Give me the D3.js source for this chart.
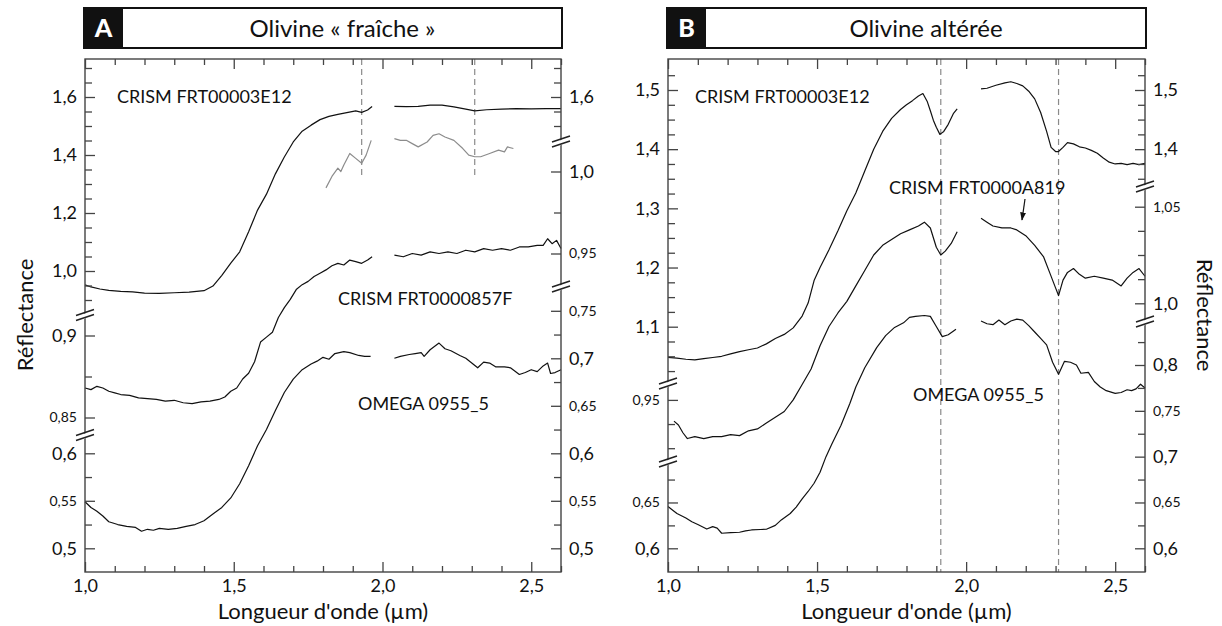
<!DOCTYPE html>
<html><head><meta charset="utf-8">
<script src="https://cdn.jsdelivr.net/npm/d3@7"></script>
<style>
body{margin:0;background:#fff}
svg{display:block}
text{font-family:Lato,"Open Sans",sans-serif;fill:#111}
</style></head>
<body><svg id="c" width="1222" height="626"></svg>
<script>
// ---------------- DATA ----------------
const xLabeledTicks = [1.0, 1.5, 2.0, 2.5];
const xTickLabels = ["1,0", "1,5", "2,0", "2,5"];
const panelTitles = ["Olivine « fraîche »", "Olivine altérée"];
const panelLetters = ["A", "B"];
const seriesNames = ["CRISM FRT00003E12", "CRISM FRT0000857F", "OMEGA 0955_5", "CRISM FRT0000A819"];
const xTitle = "Longueur d'onde (µm)";
const yTitle = "Réflectance";

// Panel A — CRISM FRT00003E12 (top scale)
const aE12_wl = [1.00,1.02,1.05,1.08,1.12,1.16,1.20,1.25,1.30,1.35,1.40,1.43,1.46,1.49,1.52,1.55,1.58,1.61,1.64,1.67,1.70,1.73,1.76,1.79,1.82,1.85,1.88,1.91,1.93,1.95,1.965,
  2.00,2.04,2.08,2.12,2.16,2.20,2.24,2.28,2.31,2.35,2.40,2.45,2.50,2.55,2.60];
const aE12_r = [0.952,0.945,0.938,0.933,0.930,0.928,0.924,0.923,0.925,0.927,0.932,0.948,0.985,1.027,1.066,1.135,1.210,1.265,1.335,1.393,1.445,1.482,1.503,1.522,1.533,1.540,1.546,1.552,1.547,1.555,1.567,
  null,1.568,1.567,1.568,1.572,1.572,1.566,1.558,1.552,1.556,1.558,1.560,1.559,1.560,1.560];
// Panel A — grey spectrum (second scale)
const aGrey_wl = [1.81,1.83,1.85,1.86,1.87,1.89,1.91,1.93,1.945,1.962,
  2.00,2.04,2.06,2.08,2.10,2.12,2.15,2.17,2.19,2.21,2.24,2.27,2.29,2.31,2.33,2.36,2.39,2.41,2.42,2.44];
const aGrey_r = [0.990,0.997,1.002,1.000,1.004,1.011,1.008,1.005,1.010,1.019,
  null,1.020,1.019,1.019,1.017,1.015,1.018,1.022,1.023,1.021,1.019,1.014,1.010,1.009,1.009,1.011,1.013,1.012,1.015,1.014];
// Panel A — CRISM FRT0000857F (second scale)
const a857_wl = [1.00,1.02,1.04,1.06,1.08,1.10,1.12,1.15,1.18,1.21,1.24,1.27,1.30,1.33,1.36,1.39,1.42,1.45,1.47,1.49,1.51,1.53,1.55,1.57,1.59,1.61,1.63,1.65,1.67,1.69,1.71,1.73,1.75,1.77,1.79,1.81,1.83,1.85,1.87,1.89,1.91,1.93,1.95,1.965,
  2.00,2.04,2.07,2.10,2.13,2.16,2.19,2.22,2.25,2.28,2.31,2.34,2.37,2.40,2.43,2.46,2.49,2.52,2.54,2.555,2.57,2.585,2.60];
const a857_r = [0.868,0.867,0.869,0.868,0.866,0.865,0.864,0.8635,0.862,0.8615,0.861,0.860,0.8605,0.859,0.8585,0.8595,0.860,0.861,0.8625,0.866,0.868,0.8735,0.877,0.884,0.896,0.899,0.902,0.911,0.917,0.922,0.928,0.931,0.933,0.936,0.938,0.940,0.9425,0.944,0.943,0.946,0.945,0.944,0.946,0.948,
  null,0.949,0.948,0.950,0.949,0.951,0.950,0.951,0.950,0.952,0.951,0.953,0.952,0.953,0.952,0.954,0.954,0.955,0.955,0.959,0.956,0.958,0.953];
// Panel A — OMEGA 0955_5 (bottom scale)
const aOm_wl = [1.00,1.02,1.04,1.06,1.08,1.11,1.14,1.17,1.19,1.21,1.23,1.25,1.28,1.31,1.34,1.37,1.40,1.43,1.46,1.49,1.52,1.55,1.58,1.61,1.64,1.67,1.70,1.73,1.76,1.78,1.80,1.82,1.84,1.87,1.89,1.92,1.94,1.96,
  2.00,2.04,2.06,2.09,2.11,2.13,2.14,2.16,2.19,2.21,2.23,2.26,2.28,2.30,2.32,2.34,2.36,2.38,2.41,2.43,2.46,2.48,2.50,2.52,2.54,2.555,2.565,2.58,2.60];
const aOm_r = [0.549,0.543,0.539,0.534,0.528,0.525,0.523,0.522,0.518,0.520,0.519,0.521,0.520,0.521,0.523,0.525,0.529,0.536,0.543,0.553,0.568,0.587,0.608,0.625,0.645,0.664,0.678,0.688,0.694,0.697,0.701,0.699,0.705,0.707,0.706,0.703,0.702,0.702,
  null,0.700,0.702,0.704,0.705,0.706,0.702,0.709,0.716,0.710,0.708,0.703,0.700,0.695,0.690,0.696,0.695,0.691,0.691,0.690,0.683,0.685,0.688,0.686,0.692,0.695,0.684,0.685,0.688];

// Panel B — CRISM FRT00003E12 (top scale)
const bE12_wl = [1.00,1.03,1.06,1.09,1.12,1.15,1.18,1.21,1.24,1.27,1.30,1.33,1.36,1.39,1.42,1.45,1.47,1.49,1.51,1.54,1.57,1.60,1.63,1.66,1.69,1.72,1.75,1.78,1.80,1.82,1.84,1.855,1.87,1.88,1.89,1.90,1.912,1.925,1.94,1.957,1.97,
  2.00,2.05,2.07,2.10,2.13,2.15,2.17,2.19,2.21,2.23,2.25,2.27,2.285,2.30,2.31,2.325,2.34,2.36,2.38,2.40,2.42,2.44,2.46,2.48,2.50,2.52,2.54,2.56,2.58,2.60];
const bE12_r = [1.048,1.047,1.045,1.044,1.046,1.048,1.050,1.054,1.058,1.061,1.064,1.071,1.080,1.087,1.098,1.118,1.140,1.178,1.200,1.230,1.262,1.296,1.326,1.363,1.400,1.430,1.452,1.467,1.475,1.482,1.490,1.494,1.480,1.465,1.449,1.437,1.425,1.430,1.442,1.460,1.468,
  null,1.502,1.503,1.508,1.512,1.514,1.511,1.507,1.498,1.485,1.462,1.430,1.403,1.396,1.396,1.403,1.411,1.409,1.404,1.402,1.398,1.393,1.385,1.378,1.375,1.376,1.374,1.376,1.374,1.376];
// Panel B — CRISM FRT0000A819 (second scale)
const bA819_wl = [1.02,1.035,1.05,1.065,1.09,1.12,1.15,1.18,1.21,1.24,1.27,1.30,1.33,1.36,1.39,1.42,1.45,1.48,1.51,1.54,1.57,1.60,1.63,1.66,1.69,1.72,1.75,1.78,1.81,1.84,1.86,1.88,1.90,1.915,1.93,1.95,1.97,
  2.00,2.05,2.07,2.09,2.12,2.15,2.17,2.20,2.23,2.26,2.28,2.30,2.31,2.325,2.34,2.36,2.38,2.40,2.43,2.46,2.49,2.52,2.54,2.56,2.58,2.60];
const bA819_r = [0.939,0.937,0.933,0.930,0.931,0.930,0.931,0.931,0.932,0.9315,0.934,0.935,0.938,0.941,0.944,0.950,0.958,0.966,0.978,0.988,0.995,1.001,1.009,1.017,1.025,1.030,1.033,1.036,1.038,1.040,1.042,1.039,1.029,1.025,1.027,1.031,1.037,
  null,1.044,1.042,1.040,1.039,1.039,1.038,1.035,1.030,1.024,1.016,1.008,1.004,1.012,1.016,1.018,1.015,1.013,1.014,1.013,1.012,1.009,1.013,1.016,1.018,1.014];
// Panel B — OMEGA 0955_5 (bottom scale)
const bOm_wl = [1.00,1.03,1.06,1.08,1.10,1.13,1.15,1.165,1.18,1.21,1.24,1.26,1.28,1.31,1.33,1.36,1.38,1.41,1.43,1.45,1.47,1.49,1.51,1.53,1.55,1.58,1.61,1.63,1.66,1.70,1.73,1.76,1.79,1.81,1.83,1.86,1.88,1.90,1.92,1.94,1.966,
  2.00,2.05,2.07,2.09,2.11,2.13,2.15,2.17,2.19,2.21,2.23,2.25,2.27,2.29,2.31,2.32,2.33,2.35,2.37,2.385,2.41,2.43,2.45,2.47,2.50,2.52,2.54,2.555,2.57,2.585,2.60];
const bOm_r = [0.6455,0.638,0.633,0.629,0.626,0.621,0.6236,0.622,0.6164,0.617,0.6175,0.619,0.620,0.6205,0.6208,0.625,0.631,0.638,0.645,0.654,0.662,0.671,0.683,0.700,0.714,0.734,0.758,0.776,0.797,0.819,0.832,0.841,0.846,0.852,0.853,0.854,0.853,0.842,0.831,0.833,0.839,
  null,0.848,0.845,0.844,0.849,0.844,0.848,0.850,0.849,0.843,0.836,0.829,0.822,0.803,0.790,0.797,0.804,0.803,0.800,0.791,0.792,0.782,0.776,0.772,0.769,0.770,0.773,0.772,0.774,0.779,0.775];

// Absorption band positions (dashed lines)
const bandsA = [1.93, 2.31];
const bandsB = [1.915, 2.31];

// Labeled y ticks per axis segment
const aLeftLabels  = [[1.0,1.2,1.4,1.6],[0.85,0.9],[0.5,0.55,0.6]];
const aRightLabels = [[1.6],[0.95,1.0],[0.5,0.55,0.6,0.65,0.7,0.75]];
const bLeftLabels  = [[1.1,1.2,1.3,1.4,1.5],[0.95],[0.6,0.65]];
const bRightLabels = [[1.4,1.5],[1.0,1.05],[0.6,0.65,0.7,0.75,0.8]];

// ---------------- DRAWING ----------------
const svg = d3.select("#c");
const TOP = 59, BOT = 572;
const fmt = v => { const s = (Math.round(v*100)/100).toString(); return (s.includes(".") ? s : s + ".0").replace(".", ","); };
const zip = (a, b) => a.map((w, i) => [w, b[i]]);

const defs = svg.append("defs");
defs.append("marker").attr("id","arr").attr("viewBox","0 0 10 10").attr("refX",9).attr("refY",5)
  .attr("markerWidth",7).attr("markerHeight",7).attr("orient","auto")
  .append("path").attr("d","M0,1.5L10,5L0,8.5Z").attr("fill","#111");

function drawPanel(cfg) {
  const g = svg.append("g");
  const x = d3.scaleLinear().domain([1.0, 2.6]).range([cfg.x0, cfg.x1]);
  const S = cfg.scales;

  // header
  g.append("rect").attr("x", cfg.x0 - 1).attr("y", 8).attr("width", cfg.x1 - cfg.x0 + 2).attr("height", 40)
    .attr("fill", "#fff").attr("stroke", "#111").attr("stroke-width", 2);
  g.append("rect").attr("x", cfg.x0 - 1).attr("y", 8).attr("width", cfg.boxW).attr("height", 40).attr("fill", "#111");
  g.append("text").attr("x", cfg.x0 - 1 + cfg.boxW/2).attr("y", 37).attr("text-anchor","middle")
    .style("font-size","25px").style("font-weight","900").style("fill","#fff").text(cfg.letter);
  g.append("text").attr("x", (cfg.x0 - 1 + cfg.boxW + cfg.x1 + 1)/2).attr("y", 37).attr("text-anchor","middle")
    .style("font-size","24px").text(cfg.title);

  // dashed band lines
  cfg.bands.forEach(b => g.append("line").attr("x1", x(b)).attr("x2", x(b)).attr("y1", TOP).attr("y2", cfg.dashBottom)
    .attr("stroke","#8a8a8a").attr("stroke-width",1.2).attr("stroke-dasharray","6,4"));

  // curves
  cfg.series.forEach(s => {
    const line = d3.line().defined(d => d[1] != null).x(d => x(d[0])).y(d => S[s.scale](d[1]));
    g.append("path").datum(zip(s.wl, s.r)).attr("d", line).attr("fill","none")
      .attr("stroke", s.color).attr("stroke-width", 1.2).attr("stroke-linejoin","round");
  });

  // frame
  g.append("rect").attr("x", cfg.x0).attr("y", TOP).attr("width", cfg.x1 - cfg.x0).attr("height", BOT - TOP)
    .attr("fill","none").attr("stroke","#444").attr("stroke-width",1.4);

  // x axes
  const xt = d3.range(10, 27).map(i => i/10);
  const isMajX = v => xLabeledTicks.some(t => Math.abs(t - v) < 1e-6);
  const xb = g.append("g").attr("transform", `translate(0,${BOT})`)
    .call(d3.axisBottom(x).tickValues(xt).tickSize(-9).tickPadding(8)
      .tickFormat(v => { const i = xLabeledTicks.findIndex(t => Math.abs(t - v) < 1e-6); return i >= 0 ? xTickLabels[i] : ""; }));
  xb.select(".domain").remove();
  xb.selectAll(".tick line").attr("stroke","#444").attr("stroke-width",1.3).attr("y2", d => isMajX(d) ? -10 : -6);
  xb.selectAll(".tick text").style("font-size","18px").style("font-family","Lato").attr("fill","#111").attr("y", 20).attr("dy", null);
  const xtp = g.append("g").attr("transform", `translate(0,${TOP})`)
    .call(d3.axisTop(x).tickValues(xt).tickSize(-9).tickFormat(""));
  xtp.select(".domain").remove();
  xtp.selectAll(".tick line").attr("stroke","#444").attr("stroke-width",1.3).attr("y2", d => isMajX(d) ? 10 : 6);

  // y axis segments
  function ySeg(side, xPos, scale, yTop, yBot, step, labels) {
    const v1 = scale.invert(yBot), v2 = scale.invert(yTop);
    const ticks = d3.range(Math.ceil(v1/step - 1e-6), Math.floor(v2/step + 1e-6) + 1).map(i => +(i*step).toFixed(5))
      .filter(v => scale(v) > yTop + 2 && scale(v) < yBot - 2);
    const isLab = v => labels.some(t => Math.abs(t - v) < 1e-6);
    const ax = (side === "left" ? d3.axisLeft(scale) : d3.axisRight(scale)).tickValues(ticks).tickSize(-8).tickPadding(8)
      .tickFormat(v => isLab(v) ? fmt(v) : "");
    const ga = g.append("g").attr("transform", `translate(${xPos},0)`).call(ax);
    ga.select(".domain").remove();
    const k = side === "left" ? 1 : -1;
    ga.selectAll(".tick line").attr("stroke","#444").attr("stroke-width",1.3).attr("x2", d => k * (isLab(d) ? 10 : 7));
    ga.selectAll(".tick text").attr("fill","#111").style("font-family","Lato")
      .style("font-size", d => (Math.abs(d*10 - Math.round(d*10)) > 1e-6) ? "14px" : "18px");
  }
  cfg.left.forEach((sg, i) => ySeg("left", cfg.x0, S[sg.s], sg.t, sg.b, sg.step, cfg.leftLabels[i]));
  cfg.right.forEach((sg, i) => ySeg("right", cfg.x1, S[sg.s], sg.t, sg.b, sg.step, cfg.rightLabels[i]));

  // break marks
  function brk(xp, yp) {
    const bg = g.append("g");
    bg.append("polygon").attr("points", `${xp-9},${yp+1.5} ${xp+9},${yp-7.5} ${xp+9},${yp-2.5} ${xp-9},${yp+6.5}`).attr("fill","#fff");
    [[-2.5],[2.5]].forEach(([o]) => bg.append("line").attr("x1", xp-9).attr("y1", yp + o + 1.5).attr("x2", xp+9).attr("y2", yp + o - 7.5 + 3)
      .attr("stroke","#222").attr("stroke-width",1.4));
  }
  cfg.breaksL.forEach(yb => brk(cfg.x0, yb));
  cfg.breaksR.forEach(yb => brk(cfg.x1, yb));

  // series labels
  cfg.labels.forEach(l => g.append("text").attr("x", l.x).attr("y", l.y).style("font-size","18px").text(l.t));
  if (cfg.arrow) g.append("line").attr("x1", cfg.arrow[0]).attr("y1", cfg.arrow[1]).attr("x2", cfg.arrow[2]).attr("y2", cfg.arrow[3])
    .attr("stroke","#111").attr("stroke-width",1.2).attr("marker-end","url(#arr)");

  // axis titles
  g.append("text").attr("x", (cfg.x0 + cfg.x1)/2).attr("y", 619).attr("text-anchor","middle").style("font-size","22px").text(xTitle);
  if (cfg.yTitleSide === "left")
    g.append("text").attr("transform", `translate(33,315) rotate(-90)`).attr("text-anchor","middle").style("font-size","22px").text(yTitle);
  else
    g.append("text").attr("transform", `translate(1197,315) rotate(90)`).attr("text-anchor","middle").style("font-size","22px").text(yTitle);
}

// Panel A
drawPanel({
  x0: 85, x1: 561, boxW: 39, letter: panelLetters[0], title: panelTitles[0],
  scales: {
    s1: d3.scaleLinear().domain([1.0, 1.6]).range([271, 97]),
    s2: d3.scaleLinear().domain([0.9, 0.95]).range([335.5, 253.5]),
    s3: d3.scaleLinear().domain([0.5, 0.6]).range([548.3, 453.3])
  },
  bands: bandsA, dashBottom: 178,
  series: [
    {wl: aE12_wl, r: aE12_r, scale: "s1", color: "#111"},
    {wl: aGrey_wl, r: aGrey_r, scale: "s2", color: "#8c8c8c"},
    {wl: a857_wl, r: a857_r, scale: "s2", color: "#111"},
    {wl: aOm_wl, r: aOm_r, scale: "s3", color: "#111"}
  ],
  left: [{s:"s1", t:TOP, b:311, step:0.05}, {s:"s2", t:322, b:431, step:0.025}, {s:"s3", t:442, b:BOT, step:0.025}],
  right: [{s:"s1", t:TOP, b:138, step:0.05}, {s:"s2", t:148, b:283, step:0.025}, {s:"s3", t:293, b:BOT, step:0.025}],
  leftLabels: aLeftLabels, rightLabels: aRightLabels,
  breaksL: [316.5, 436.5], breaksR: [143, 288],
  labels: [
    {x: 117, y: 103, t: seriesNames[0]},
    {x: 338, y: 305, t: seriesNames[1]},
    {x: 358, y: 410, t: seriesNames[2]}
  ],
  yTitleSide: "left"
});

// Panel B
drawPanel({
  x0: 668, x1: 1145, boxW: 39, letter: panelLetters[1], title: panelTitles[1],
  scales: {
    s1: d3.scaleLinear().domain([1.1, 1.5]).range([326.7, 90]),
    s2: d3.scaleLinear().domain([1.0, 1.05]).range([303.3, 206.7]),
    s3: d3.scaleLinear().domain([0.6, 0.8]).range([548.3, 365])
  },
  bands: bandsB, dashBottom: BOT,
  series: [
    {wl: bE12_wl, r: bE12_r, scale: "s1", color: "#111"},
    {wl: bA819_wl, r: bA819_r, scale: "s2", color: "#111"},
    {wl: bOm_wl, r: bOm_r, scale: "s3", color: "#111"}
  ],
  left: [{s:"s1", t:TOP, b:380, step:0.025}, {s:"s2", t:390, b:458, step:0.0125}, {s:"s3", t:468, b:BOT, step:0.025}],
  right: [{s:"s1", t:TOP, b:183, step:0.025}, {s:"s2", t:193, b:318, step:0.0125}, {s:"s3", t:328, b:BOT, step:0.025}],
  leftLabels: bLeftLabels, rightLabels: bRightLabels,
  breaksL: [385, 463], breaksR: [188, 323],
  labels: [
    {x: 695, y: 103, t: seriesNames[0]},
    {x: 889, y: 194, t: seriesNames[3]},
    {x: 913, y: 401, t: seriesNames[2]}
  ],
  arrow: [1025, 199, 1022, 220],
  yTitleSide: "right"
});
</script></body></html>
